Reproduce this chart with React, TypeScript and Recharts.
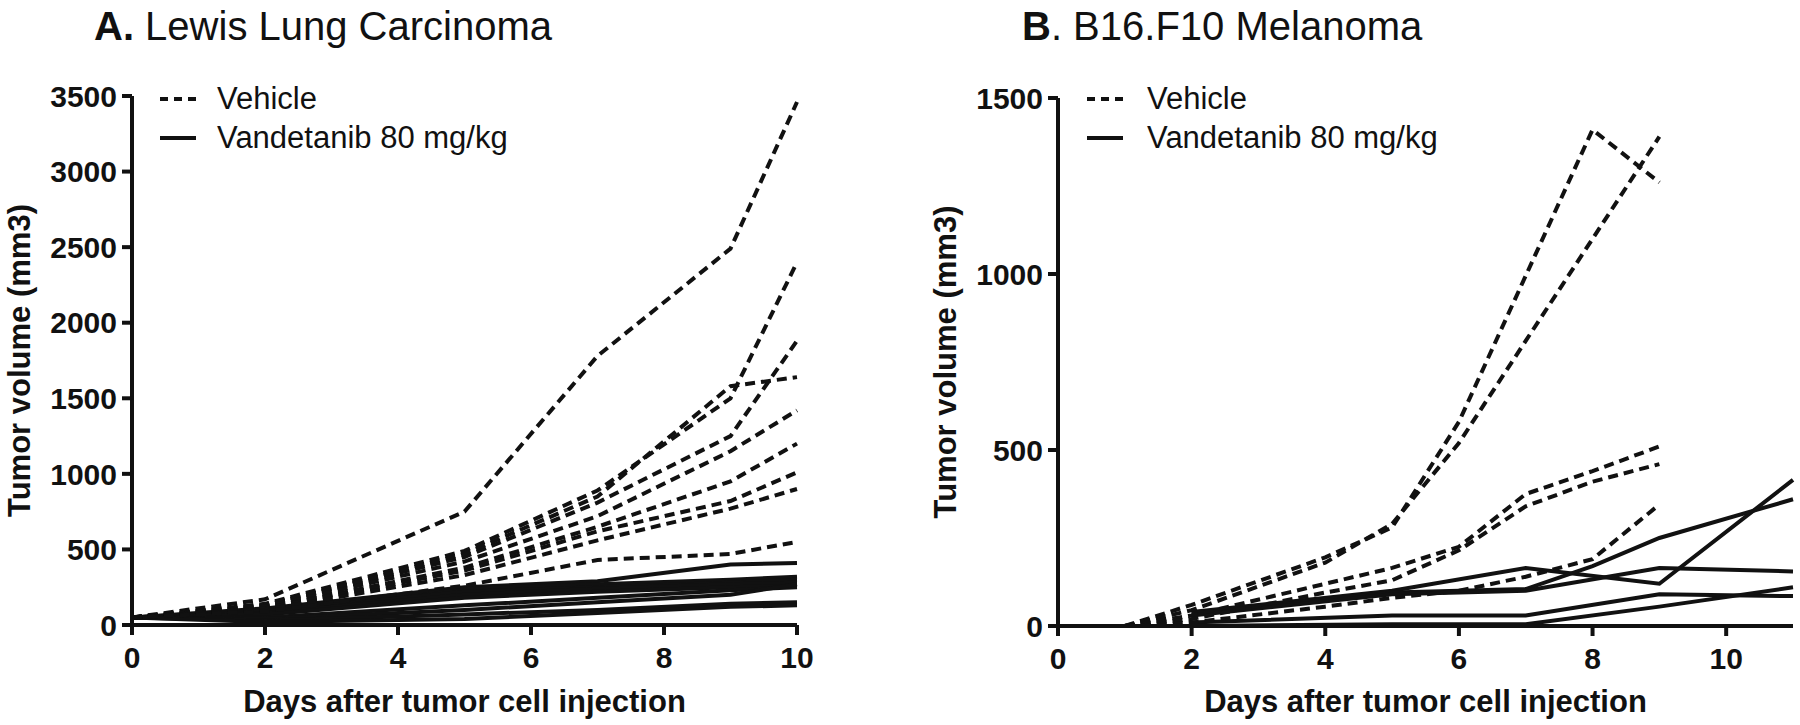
import React from 'react';
import { LineChart, Line, XAxis, YAxis } from 'recharts';

// Panel A: Lewis Lung Carcinoma, measurement days
const daysA = [0, 2, 5, 7, 9, 10];
const vehicleA = [
  [50, 170, 750, 1780, 2490, 3460],
  [50, 140, 490, 890, 1500, 2400],
  [50, 130, 450, 810, 1250, 1880],
  [50, 130, 470, 850, 1580, 1640],
  [50, 120, 420, 720, 1150, 1420],
  [50, 110, 380, 650, 950, 1200],
  [50, 110, 360, 620, 820, 1010],
  [50, 100, 330, 560, 770, 900],
  [50, 90, 260, 430, 470, 550],
];
const vandetanibA = [
  [50, 110, 250, 290, 400, 410],
  [50, 100, 240, 270, 300, 320],
  [50, 90, 220, 250, 280, 300],
  [50, 80, 200, 240, 270, 280],
  [50, 70, 180, 220, 250, 260],
  [50, 50, 130, 180, 230, 250],
  [50, 40, 100, 150, 200, 270],
  [50, 30, 70, 100, 140, 150],
  [50, 20, 40, 80, 120, 130],
];

// Panel B: B16.F10 Melanoma (null = not measured that day)
const daysB = [1, 2, 4, 5, 6, 7, 8, 9, 11];
const vehicleB = [
  [0, 60, 195, 280, 580, null, 1410, 1260, null],
  [0, 45, 180, 290, 520, null, 1100, 1390, null],
  [0, 30, 120, 165, 225, 375, 440, 510, null],
  [0, 20, 95, 130, 215, 340, 410, 460, null],
  [0, 10, 55, 80, 100, 140, 190, 345, null],
];
const vandetanibB = [
  [null, 40, null, 100, null, 165, null, 120, 415],
  [null, 35, null, 95, null, 105, 170, 250, 360],
  [null, 30, null, 90, null, 100, null, 165, 155],
  [null, 10, null, 30, null, 30, null, 90, 85],
  [null, 0, null, 5, null, 5, null, 55, 110],
  [null, 0, null, 0, null, 0, null, 0, 0],
];

const ticksA = [0, 2, 4, 6, 8, 10];
const yTicksA = [0, 500, 1000, 1500, 2000, 2500, 3000, 3500];
const ticksB = [0, 2, 4, 6, 8, 10];
const yTicksB = [0, 500, 1000, 1500];

const INK = '#111';
const FONT = '"Liberation Sans", Arial, Helvetica, sans-serif';

const toPoints = (days: number[], values: (number | null)[]) =>
  days.map((day, i) => ({ day, v: values[i] }));

interface PanelProps {
  left: number;
  width: number;
  yAxisWidth: number;
  top: number;
  bottom: number;
  marginRight: number;
  yLabelOffset: number;
  xDomain: number[];
  xTicks: number[];
  yDomain: number[];
  yTicks: number[];
  days: number[];
  vehicle: (number | null)[][];
  treated: (number | null)[][];
}

const tickStyle = { fontSize: 30, fontWeight: 700, fill: INK, fontFamily: FONT };
const labelStyle = { fontSize: 31, fontWeight: 700, fill: INK, fontFamily: FONT, textAnchor: 'middle' as const };

function Panel(p: PanelProps) {
  return (
    <div style={{ position: 'absolute', left: p.left, top: 0 }}>
      <LineChart
        width={p.width}
        height={725}
        margin={{ top: p.top, right: p.marginRight, left: 0, bottom: 0 }}
      >
        <XAxis
          type="number"
          dataKey="day"
          domain={p.xDomain}
          ticks={p.xTicks}
          interval={0}
          height={725 - p.bottom}
          tickSize={10}
          tickMargin={12}
          tick={tickStyle}
          axisLine={{ stroke: INK, strokeWidth: 4 }}
          tickLine={{ stroke: INK, strokeWidth: 4 }}
          label={{ value: 'Days after tumor cell injection', position: 'insideBottom', offset: 13, style: labelStyle }}
        />
        <YAxis
          type="number"
          domain={p.yDomain}
          ticks={p.yTicks}
          interval={0}
          width={p.yAxisWidth}
          tickSize={10}
          tickMargin={5}
          tick={tickStyle}
          axisLine={{ stroke: INK, strokeWidth: 4 }}
          tickLine={{ stroke: INK, strokeWidth: 4 }}
          label={{ value: 'Tumor volume (mm3)', angle: -90, position: 'insideLeft', offset: p.yLabelOffset, style: labelStyle }}
        />
        {p.treated.map((vals, i) => (
          <Line
            key={'t' + i}
            data={toPoints(p.days, vals)}
            dataKey="v"
            type="linear"
            stroke={INK}
            strokeWidth={4}
            dot={false}
            connectNulls
            isAnimationActive={false}
          />
        ))}
        {p.vehicle.map((vals, i) => (
          <Line
            key={'v' + i}
            data={toPoints(p.days, vals)}
            dataKey="v"
            type="linear"
            stroke={INK}
            strokeWidth={4}
            strokeDasharray="10 6"
            dot={false}
            connectNulls
            isAnimationActive={false}
          />
        ))}
      </LineChart>
    </div>
  );
}

function LegendBox({ left, textLeft }: { left: number; textLeft: number }) {
  const row = (dashed: boolean, text: string, top: number) => (
    <div style={{ position: 'absolute', left, top, height: 39, display: 'flex', alignItems: 'center' }}>
      <svg width={36} height={6} style={{ display: 'block' }}>
        <line x1={0} y1={3} x2={36} y2={3} stroke={INK} strokeWidth={4} strokeDasharray={dashed ? '8 6' : undefined} />
      </svg>
      <span style={{ marginLeft: textLeft - left - 36, fontSize: 31, lineHeight: '39px', color: INK, fontFamily: FONT }}>{text}</span>
    </div>
  );
  return (
    <>
      {row(true, 'Vehicle', 79)}
      {row(false, 'Vandetanib 80 mg/kg', 118)}
    </>
  );
}

const titleStyle: React.CSSProperties = {
  position: 'absolute',
  top: 6,
  fontSize: 40,
  lineHeight: '40px',
  color: INK,
  fontFamily: FONT,
  whiteSpace: 'nowrap',
};

export default function App() {
  return (
    <div style={{ position: 'absolute', left: 0, top: 0, width: 1800, height: 725, background: '#fff', overflow: 'hidden' }}>
      <div style={{ ...titleStyle, left: 94 }}>
        <b>A.</b> Lewis Lung Carcinoma
      </div>
      <div style={{ ...titleStyle, left: 1022 }}>
        <b>B</b>. B16.F10 Melanoma
      </div>
      <Panel
        left={0}
        width={900}
        yAxisWidth={132}
        top={96}
        bottom={625}
        marginRight={103}
        yLabelOffset={19}
        xDomain={[0, 10]}
        xTicks={ticksA}
        yDomain={[0, 3500]}
        yTicks={yTicksA}
        days={daysA}
        vehicle={vehicleA}
        treated={vandetanibA}
      />
      <Panel
        left={900}
        width={900}
        yAxisWidth={158}
        top={98}
        bottom={626}
        marginRight={7}
        yLabelOffset={45}
        xDomain={[0, 11]}
        xTicks={ticksB}
        yDomain={[0, 1500]}
        yTicks={yTicksB}
        days={daysB}
        vehicle={vehicleB}
        treated={vandetanibB}
      />
      <LegendBox left={160} textLeft={217} />
      <LegendBox left={1087} textLeft={1147} />
    </div>
  );
}
